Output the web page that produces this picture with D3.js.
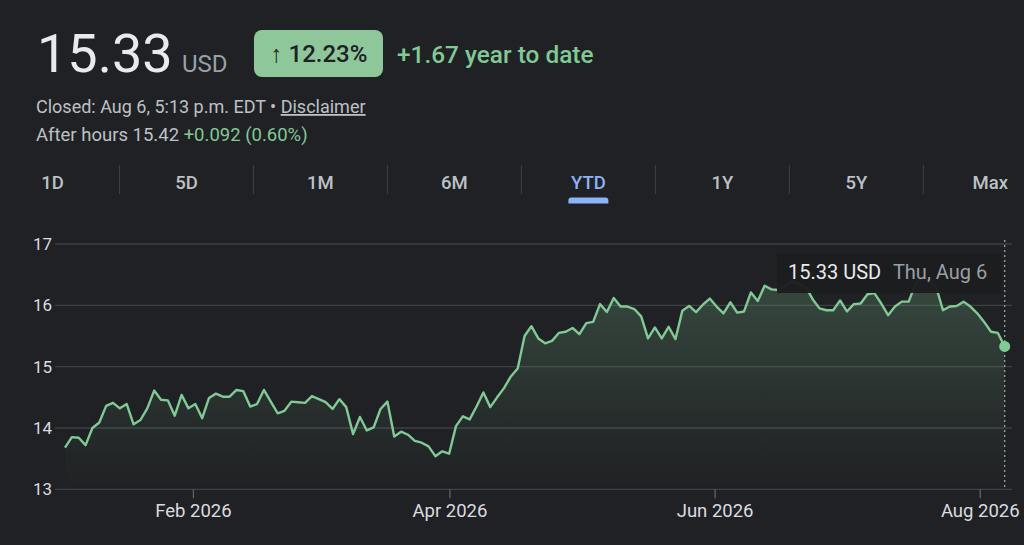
<!DOCTYPE html>
<html>
<head>
<meta charset="utf-8">
<script src="https://cdn.jsdelivr.net/npm/d3@7"></script>
<style>
  body { margin: 0; background: #202124; }
  svg { display: block; font-family: Roboto, "Noto Sans", sans-serif; }
</style>
</head>
<body>
<svg id="chart" width="1024" height="545"></svg>
<script>
// closing prices, YTD (one value per plotted session)
var prices = [
  13.68, 13.85, 13.84, 13.72, 14.00, 14.09, 14.36, 14.41, 14.32, 14.39,
  14.06, 14.13, 14.32, 14.61, 14.46, 14.45, 14.20, 14.54, 14.32, 14.39,
  14.16, 14.49, 14.56, 14.51, 14.51, 14.62, 14.60, 14.35, 14.39, 14.62,
  14.43, 14.24, 14.28, 14.43, 14.42, 14.41, 14.52, 14.47, 14.42, 14.31,
  14.47, 14.34, 13.90, 14.18, 13.96, 14.01, 14.31, 14.43, 13.86, 13.94,
  13.89, 13.79, 13.76, 13.70, 13.54, 13.62, 13.58, 14.03, 14.19, 14.14,
  14.35, 14.58, 14.34, 14.50, 14.65, 14.84, 14.97, 15.50, 15.66, 15.46,
  15.38, 15.42, 15.55, 15.57, 15.63, 15.53, 15.71, 15.73, 16.02, 15.89,
  16.12, 15.98, 15.98, 15.94, 15.82, 15.46, 15.64, 15.46, 15.65, 15.45,
  15.91, 15.99, 15.89, 16.01, 16.11, 15.98, 15.87, 16.05, 15.88, 15.90,
  16.21, 16.07, 16.32, 16.26, 16.25, 16.32, 16.40, 16.35, 16.30, 16.10,
  15.95, 15.92, 15.92, 16.08, 15.90, 16.02, 16.03, 16.18, 16.20, 16.03,
  15.84, 15.98, 16.06, 16.06, 16.35, 16.45, 16.40, 16.30, 15.92, 15.98,
  15.99, 16.06, 15.98, 15.87, 15.73, 15.57, 15.55, 15.33
];
var firstDay = "2026-01-02";
var lastDay = "2026-08-06";
var yTicks = [13, 14, 15, 16, 17];
var xTickDates = ["2026-02-01", "2026-04-01", "2026-06-01", "2026-08-01"];
var xTickLabels = ["Feb 2026", "Apr 2026", "Jun 2026", "Aug 2026"];
var tabs = ["1D", "5D", "1M", "6M", "YTD", "1Y", "5Y", "Max"];
var activeTab = "YTD";

var green = "#81c995";
var svg = d3.select("#chart");
var parse = d3.timeParse("%Y-%m-%d");

// ---- header ----
svg.append("text").attr("x", 37).attr("y", 72)
  .attr("fill", "#e8eaed").attr("font-size", 54).text("15.33");
svg.append("text").attr("x", 182).attr("y", 72)
  .attr("fill", "#9aa0a6").attr("font-size", 24).text("USD");

svg.append("rect").attr("x", 254).attr("y", 30).attr("width", 129).attr("height", 47)
  .attr("rx", 8).attr("fill", "#8ec89a");
svg.append("text").attr("x", 319).attr("y", 62).attr("text-anchor", "middle")
  .attr("fill", "#202124").attr("font-size", 24).attr("font-weight", 500).text("↑ 12.23%");
svg.append("text").attr("x", 397).attr("y", 63)
  .attr("fill", green).attr("font-size", 24.4).attr("font-weight", 500).text("+1.67 year to date");

var closedTxt = svg.append("text").attr("x", 36).attr("y", 113)
  .attr("fill", "#bdc1c6").attr("font-size", 18);
closedTxt.append("tspan").text("Closed: Aug 6, 5:13 p.m. EDT • ");
closedTxt.append("tspan").attr("text-decoration", "underline").text("Disclaimer");

var afterTxt = svg.append("text").attr("x", 36).attr("y", 141)
  .attr("fill", "#bdc1c6").attr("font-size", 18.5);
afterTxt.append("tspan").text("After hours 15.42 ");
afterTxt.append("tspan").attr("fill", green).text("+0.092 (0.60%)");

// ---- range tabs ----
var tabX = d3.scaleBand().domain(tabs).range([-14.5, 1057.3]);
svg.selectAll(".sep").data(tabs.slice(1)).enter().append("line")
  .attr("x1", function(d) { return tabX(d); })
  .attr("x2", function(d) { return tabX(d); })
  .attr("y1", 165).attr("y2", 194)
  .attr("stroke", "#3c4043").attr("stroke-width", 1);
svg.selectAll(".tab").data(tabs).enter().append("text")
  .attr("x", function(d) { return tabX(d) + tabX.bandwidth() / 2; })
  .attr("y", 189).attr("text-anchor", "middle")
  .attr("font-size", 18.5).attr("font-weight", 500)
  .attr("fill", function(d) { return d == activeTab ? "#8ab4f8" : "#bdc1c6"; })
  .text(function(d) { return d; });
var ux = tabX(activeTab) + tabX.bandwidth() / 2;
svg.append("path")
  .attr("d", "M" + (ux - 20) + ",203.5 L" + (ux - 20) + ",200.5 Q" + (ux - 20) + ",197.5 " + (ux - 17) + ",197.5"
    + " L" + (ux + 17) + ",197.5 Q" + (ux + 20) + ",197.5 " + (ux + 20) + ",200.5 L" + (ux + 20) + ",203.5 Z")
  .attr("fill", "#8ab4f8");

// ---- chart ----
var x = d3.scaleTime().domain([parse(firstDay), parse(lastDay)]).range([63, 1002]);
var xi = d3.scaleLinear().domain([0, prices.length - 1]).range([65, 1004.7]);
var y = d3.scaleLinear().domain([13, 17]).range([489.3, 244]);
var left = 55, right = 1012;

svg.selectAll(".grid").data(yTicks).enter().append("line")
  .attr("x1", left).attr("x2", right)
  .attr("y1", function(d) { return y(d); }).attr("y2", function(d) { return y(d); })
  .attr("stroke", "#3c4043").attr("stroke-width", 1.3);

svg.selectAll(".ylab").data(yTicks).enter().append("text")
  .attr("x", 52).attr("y", function(d) { return y(d) + 6; })
  .attr("text-anchor", "end").attr("fill", "#dadce0").attr("font-size", 17)
  .text(function(d) { return d; });

var xt = svg.append("g").attr("transform", "translate(0," + y(13) + ")");
xTickDates.forEach(function(d, i) {
  var px = x(parse(d));
  xt.append("line").attr("x1", px).attr("x2", px).attr("y1", 0).attr("y2", 9)
    .attr("stroke", "#5f6368").attr("stroke-width", 1.3);
  xt.append("text").attr("x", px).attr("y", 28).attr("text-anchor", "middle")
    .attr("fill", "#dadce0").attr("font-size", 18.5).text(xTickLabels[i]);
});

var grad = svg.append("defs").append("linearGradient").attr("id", "fade")
  .attr("gradientUnits", "userSpaceOnUse")
  .attr("x1", 0).attr("x2", 0).attr("y1", y(16.5)).attr("y2", y(13));
grad.append("stop").attr("offset", 0).attr("stop-color", green).attr("stop-opacity", 0.24);
grad.append("stop").attr("offset", 0.75).attr("stop-color", green).attr("stop-opacity", 0.05);
grad.append("stop").attr("offset", 1).attr("stop-color", green).attr("stop-opacity", 0);

var area = d3.area()
  .x(function(d, i) { return xi(i); })
  .y0(y(13))
  .y1(function(d) { return y(d); });
var line = d3.line()
  .x(function(d, i) { return xi(i); })
  .y(function(d) { return y(d); });

svg.append("path").datum(prices).attr("d", area).attr("fill", "url(#fade)");
svg.append("path").datum(prices).attr("d", line)
  .attr("fill", "none").attr("stroke", green).attr("stroke-width", 2.4)
  .attr("stroke-linejoin", "round");

var lastX = xi(prices.length - 1), lastY = y(prices[prices.length - 1]);
svg.append("line").attr("x1", lastX).attr("x2", lastX).attr("y1", 240).attr("y2", y(13))
  .attr("stroke", "#9aa0a6").attr("stroke-width", 1.3).attr("stroke-dasharray", "2,3");
svg.append("circle").attr("cx", lastX).attr("cy", lastY).attr("r", 5.5).attr("fill", green);

// tooltip
svg.append("rect").attr("x", 777).attr("y", 253).attr("width", 225).attr("height", 40)
  .attr("fill", "#1c1d1f").attr("opacity", 0.97);
var tip = svg.append("text").attr("x", 788).attr("y", 279).attr("font-size", 20);
tip.append("tspan").attr("fill", "#e8eaed").text(prices[prices.length - 1].toFixed(2) + " USD");
tip.append("tspan").attr("fill", "#9aa0a6").attr("dx", 12).text("Thu, Aug 6");
</script>
</body>
</html>
